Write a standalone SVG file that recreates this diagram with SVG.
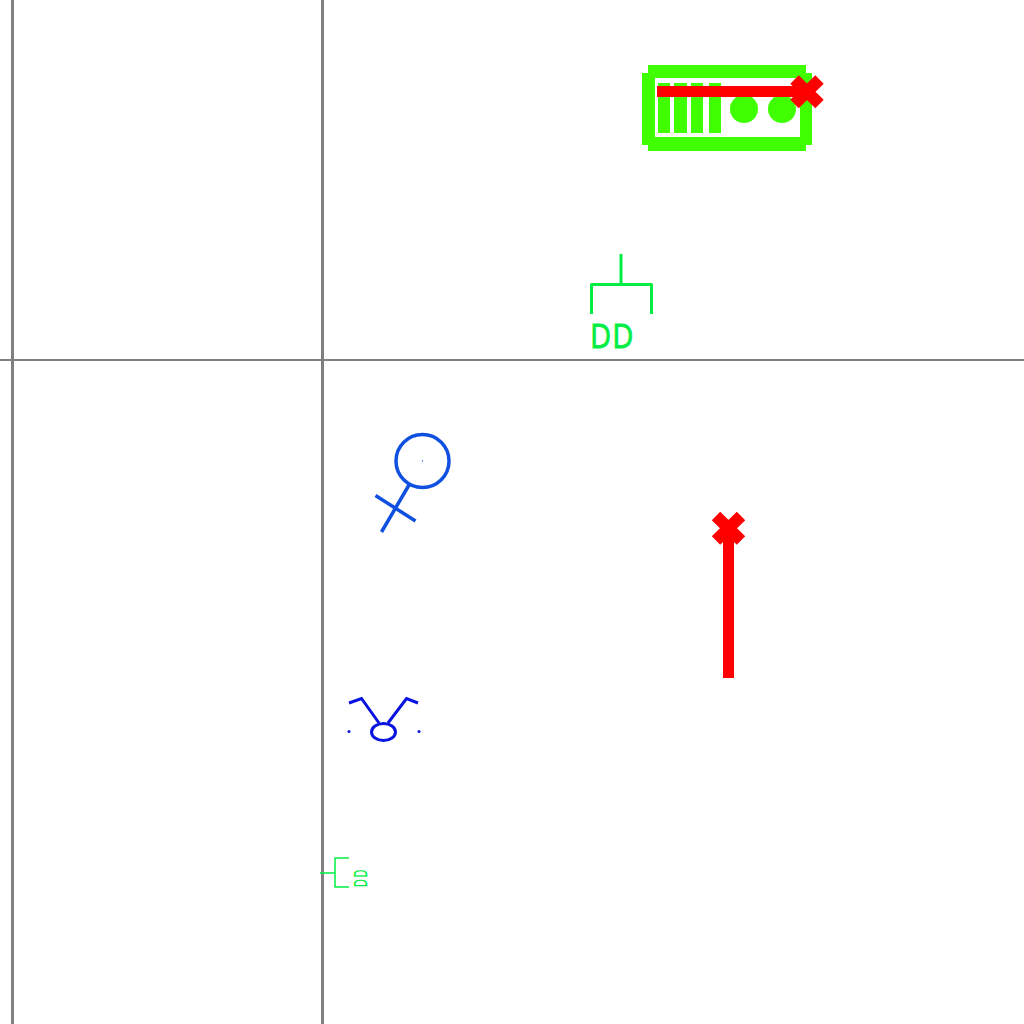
<svg xmlns="http://www.w3.org/2000/svg" width="1024" height="1024" viewBox="0 0 1024 1024">
<style>
.grid{stroke:#808080;fill:none}
.g{fill:#40ff00}
.r{stroke:#ff0000;fill:none}
.x{stroke:#ff0000;stroke-width:12;fill:none}
.m{stroke:#00ee44;fill:none;stroke-width:3;stroke-linejoin:round}
.t{font-family:"Liberation Sans","DejaVu Sans",sans-serif;fill:#00ee44;stroke:#00ee44}
.b1{stroke:#1050e0;fill:none;stroke-width:3.500}
.b2{stroke:#0a14e0;fill:none;stroke-width:3}
</style>
<rect width="1024" height="1024" fill="#ffffff"/>
<g id="grid">
<line class="grid" x1="12.500" y1="0" x2="12.500" y2="1024" stroke-width="3"/>
<line class="grid" x1="322.500" y1="0" x2="322.500" y2="1024" stroke-width="3"/>
<line class="grid" x1="0" y1="360" x2="1024" y2="360" stroke-width="2"/>
</g>
<g id="battery">
<path class="g" fill-rule="evenodd" d="M648 65H806V73H812V145H806V151H648V145H642V73H648ZM655 78V137H800V78Z"/>
<rect class="g" x="658" y="83" width="12" height="50"/>
<rect class="g" x="674" y="83" width="13" height="50"/>
<rect class="g" x="691" y="83" width="12" height="50"/>
<rect class="g" x="709" y="83" width="12" height="50"/>
<ellipse class="g" cx="744" cy="109" rx="14" ry="14"/>
<ellipse class="g" cx="782" cy="109" rx="14" ry="14"/>
</g>
<g id="fault-top">
<line class="r" x1="657" y1="91.500" x2="800" y2="91.500" stroke-width="11"/>
<path class="x" d="M794.500 79.500L819.500 104M819.500 79.500L794.500 104"/>
</g>
<g id="fault-bottom">
<line class="r" x1="728.500" y1="535" x2="728.500" y2="678" stroke-width="11"/>
<path class="x" d="M716 516L741 540.500M741 516L716 540.500"/>
</g>
<g id="dd-large">
<path class="m" d="M621 254V284M591.500 314V284.500H651.500V314"/>
<text class="t" transform="translate(590.500 348) scale(0.78 1)" font-size="36" letter-spacing="2.500" stroke-width="0.800">DD</text>
</g>
<g id="dd-small">
<path class="m" style="stroke-width:1.500" d="M320 873H335M349 858H335V887H349"/>
<text class="t" transform="translate(366.500 887) rotate(-90) scale(0.6 1)" font-size="18" letter-spacing="3" stroke-width="0.300">DD</text>
</g>
<g id="female">
<circle class="b1" cx="422.500" cy="461" r="26.500"/>
<path class="b1" d="M409 485L381.500 532M375.500 495.500L415.500 521"/>
<circle cx="422.500" cy="461" r="0.700" fill="#1050e0"/>
</g>
<g id="taurus">
<ellipse class="b2" cx="383.500" cy="732" rx="12" ry="8.500"/>
<path class="b2" d="M349 703L361.500 698.500L379 723M388 723L406.500 698.500L418 703"/>
<circle cx="349" cy="731.500" r="1.500" fill="#0a14e0"/>
<circle cx="419" cy="731.500" r="1.500" fill="#0a14e0"/>
</g>
</svg>
